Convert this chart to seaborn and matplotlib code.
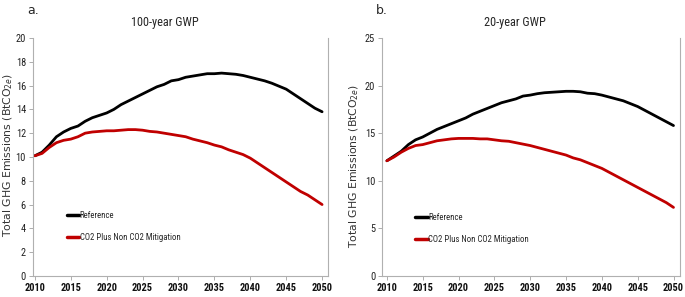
import pandas as pd
import matplotlib.pyplot as plt
from matplotlib import font_manager
import seaborn as sns

# Years shared by both panels
years = list(range(2010, 2051))

# 100-year GWP (panel a)
ref_100 = [10.1, 10.4, 11.0, 11.7, 12.1, 12.4, 12.6, 13.0, 13.3, 13.5,
           13.7, 14.0, 14.4, 14.7, 15.0, 15.3, 15.6, 15.9, 16.1, 16.4,
           16.5, 16.7, 16.8, 16.9, 17.0, 17.0, 17.05, 17.0, 16.95, 16.85,
           16.7, 16.55, 16.4, 16.2, 15.95, 15.7, 15.3, 14.9, 14.5, 14.1,
           13.8]
mit_100 = [10.1, 10.3, 10.8, 11.2, 11.4, 11.5, 11.7, 12.0, 12.1, 12.15,
           12.2, 12.2, 12.25, 12.3, 12.3, 12.25, 12.15, 12.1, 12.0, 11.9,
           11.8, 11.7, 11.5, 11.35, 11.2, 11.0, 10.85, 10.6, 10.4, 10.2,
           9.9, 9.5, 9.1, 8.7, 8.3, 7.9, 7.5, 7.1, 6.8, 6.4,
           6.0]

# 20-year GWP (panel b)
ref_20 = [12.1, 12.6, 13.1, 13.8, 14.3, 14.6, 15.0, 15.4, 15.7, 16.0,
          16.3, 16.6, 17.0, 17.3, 17.6, 17.9, 18.2, 18.4, 18.6, 18.9,
          19.0, 19.15, 19.25, 19.3, 19.35, 19.4, 19.4, 19.35, 19.2, 19.15,
          19.0, 18.8, 18.6, 18.4, 18.1, 17.8, 17.4, 17.0, 16.6, 16.2,
          15.8]
mit_20 = [12.1, 12.5, 13.0, 13.4, 13.7, 13.8, 14.0, 14.2, 14.3, 14.4,
          14.45, 14.45, 14.45, 14.4, 14.4, 14.3, 14.2, 14.15, 14.0, 13.85,
          13.7, 13.5, 13.3, 13.1, 12.9, 12.7, 12.4, 12.2, 11.9, 11.6,
          11.3, 10.9, 10.5, 10.1, 9.7, 9.3, 8.9, 8.5, 8.1, 7.7,
          7.2]

series_names = ["Reference", "CO2 Plus Non CO2 Mitigation"]
palette = {"Reference": "#000000", "CO2 Plus Non CO2 Mitigation": "#C00000"}


def make_df(ref, mit):
    return pd.concat([
        pd.DataFrame({"Year": years, "Value": ref, "Scenario": series_names[0]}),
        pd.DataFrame({"Year": years, "Value": mit, "Scenario": series_names[1]}),
    ])


# Look for a narrow font (the original looks like Calibri)
entries = font_manager.fontManager.ttflist
narrow = None
for name in ["Liberation Sans Narrow", "Noto Sans Condensed", "Roboto Condensed",
             "Open Sans Condensed", "DejaVu Sans Condensed"]:
    if any(e.name == name for e in entries):
        narrow = dict(family=name, stretch="normal")
        break
if narrow is None:
    for e in entries:
        if e.stretch in ("condensed", "semi-condensed") and e.name in (
                "Noto Sans", "DejaVu Sans", "Open Sans", "Roboto"):
            narrow = dict(family=e.name, stretch="condensed")
            break
found = narrow is not None
if narrow is None:
    narrow = dict(family="DejaVu Sans", stretch="normal")
small = 1.0 if found else 0.8

sns.set_theme(style="white")
plt.rcParams["font.family"] = ["DejaVu Sans"]

fig = plt.figure(figsize=(6.85, 2.97), dpi=100)

panels = [
    dict(pos=[0.048, 0.071, 0.431, 0.801], df=make_df(ref_100, mit_100),
         title="100-year GWP", tag="a.", ylim=(0, 20), yticks=range(0, 21, 2),
         xlim=(2009.72, 2050.84), tagx=0.040, ylab=(0.012, 0.478),
         leg=(0.089, 0.110)),
    dict(pos=[0.558, 0.071, 0.434, 0.801], df=make_df(ref_20, mit_20),
         title="20-year GWP", tag="b.", ylim=(0, 25), yticks=range(0, 26, 5),
         xlim=(2009.35, 2050.84), tagx=0.548, ylab=(0.517, 0.441),
         leg=(0.085, 0.102)),
]

for p in panels:
    ax = fig.add_axes(p["pos"])
    sns.lineplot(data=p["df"], x="Year", y="Value", hue="Scenario",
                 palette=palette, lw=2.0, ax=ax)
    ax.set_xlim(*p["xlim"])
    ax.set_ylim(*p["ylim"])
    ax.set_xticks(range(2010, 2051, 5))
    ax.set_yticks(list(p["yticks"]))
    ax.set_xlabel("")
    ax.set_ylabel("")
    for lab in ax.get_xticklabels():
        lab.set_family(narrow["family"])
        lab.set_stretch(narrow["stretch"])
        lab.set_fontweight("bold")
        lab.set_fontsize(7.5 * small)
        lab.set_color("#111111")
    for lab in ax.get_yticklabels():
        lab.set_family(narrow["family"])
        lab.set_stretch(narrow["stretch"])
        lab.set_fontsize(7.5 * small)
        lab.set_color("#222222")
    ax.tick_params(axis="both", length=3, width=0.6, color="#a0a0a0", pad=2,
                   direction="out", bottom=True, left=True)
    ax.spines["top"].set_visible(False)
    for s in ["left", "right", "bottom"]:
        ax.spines[s].set_color("#b0b0b0")
        ax.spines[s].set_linewidth(0.8)

    title = ax.set_title(p["title"], family=narrow["family"],
                         stretch=narrow["stretch"],
                         fontsize=8.8 * (1 if found else 0.9), pad=9)
    title.set_x(0.447)
    fig.text(p["tagx"], 0.965, p["tag"], fontsize=9, va="center")
    fig.text(p["ylab"][0], p["ylab"][1], "Total GHG Emissions (BtCO$_{2e}$)",
             rotation=90, fontsize=7.8, va="center", ha="center", color="#333333")

    leg = ax.legend(loc="lower left", bbox_to_anchor=p["leg"],
                    frameon=False, handlelength=1.4, handletextpad=0.05,
                    labelspacing=1.5,
                    prop={"family": narrow["family"], "stretch": narrow["stretch"],
                          "size": 6.3 * (1 if found else 0.85)})
    for line in leg.get_lines():
        line.set_linewidth(2.5)

fig.savefig("out.png", dpi=100)
